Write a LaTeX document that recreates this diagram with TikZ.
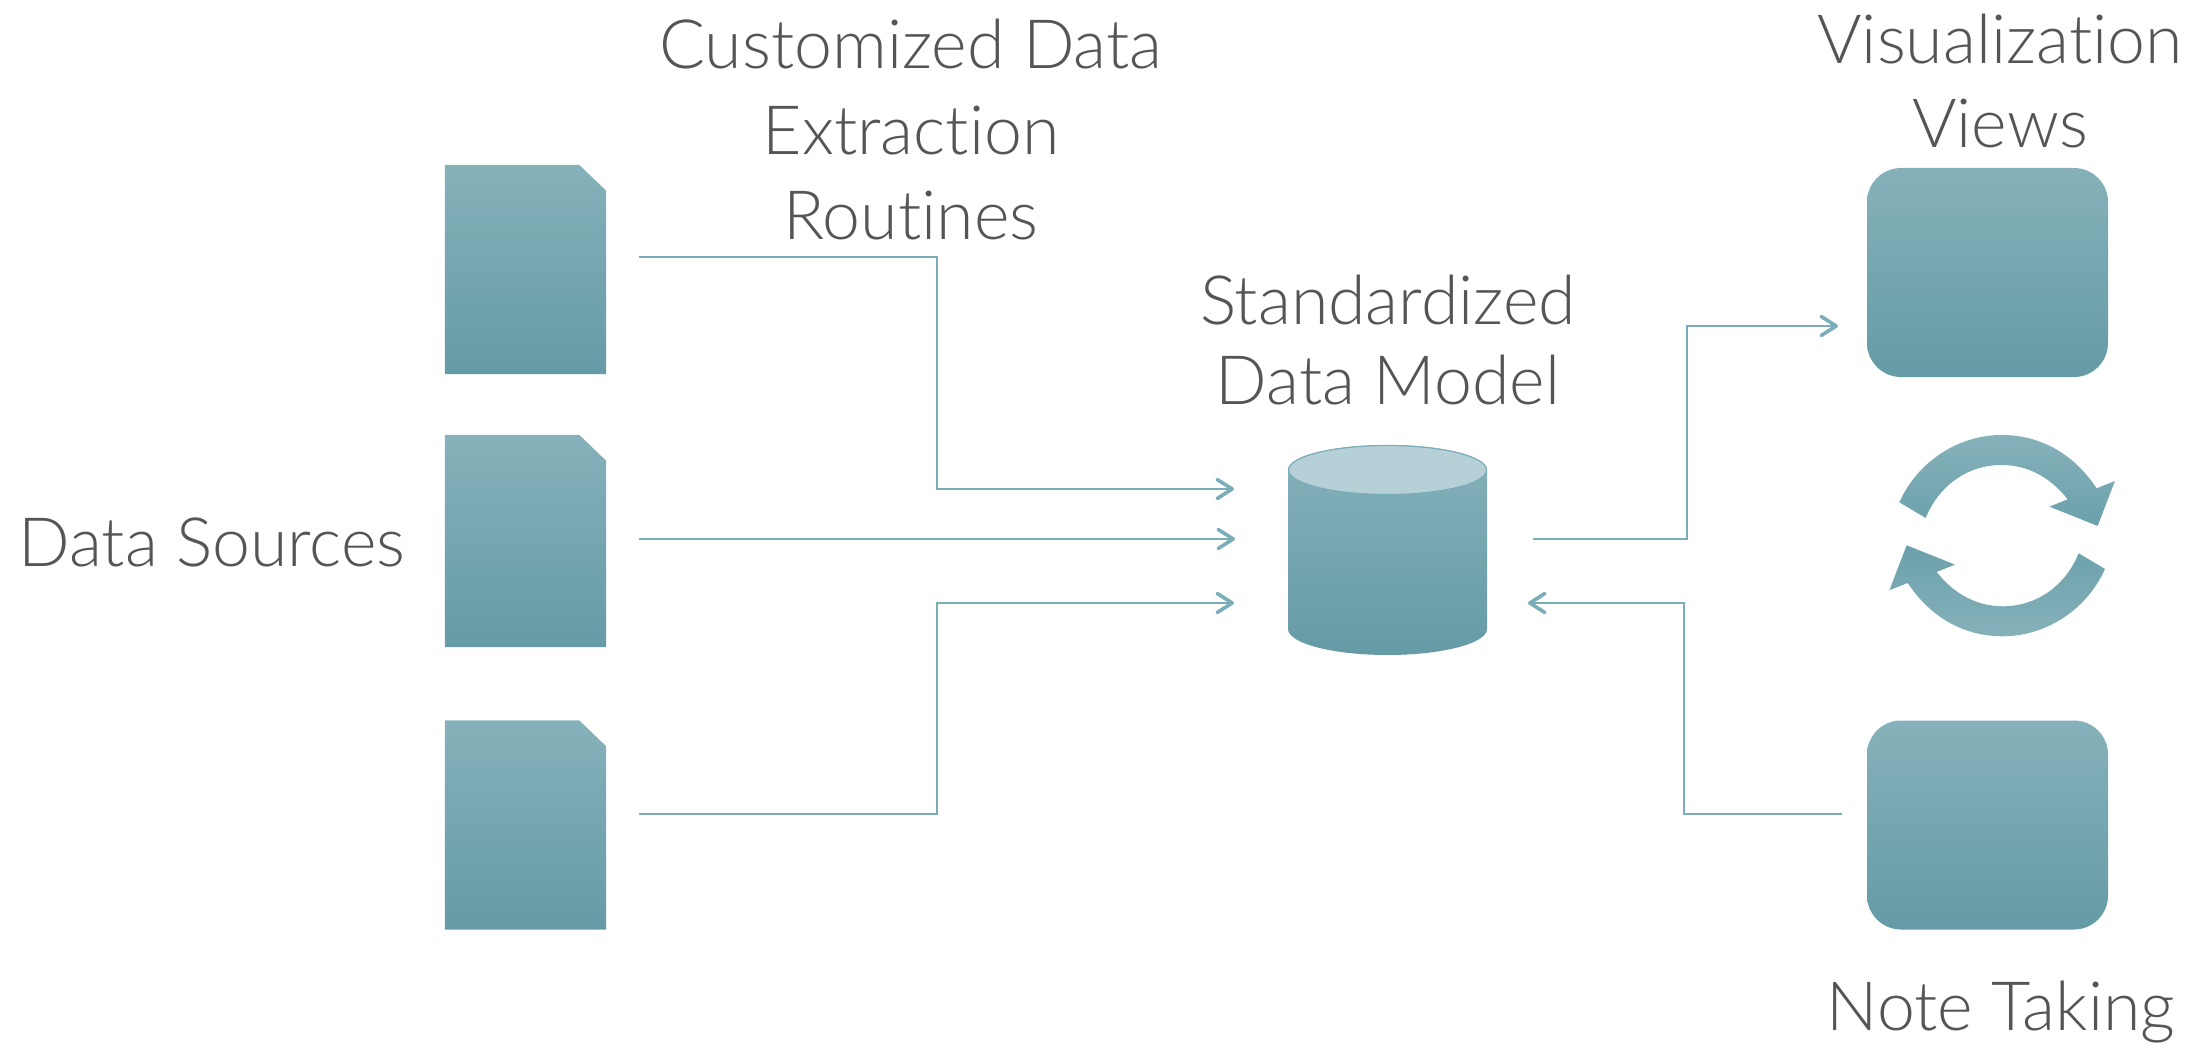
\documentclass[tikz,border=0pt]{standalone}
\usepackage{fontspec}
\setmainfont[UprightFont=* Light,Ligatures=NoCommon]{Lato}
\usetikzlibrary{arrows.meta}
\definecolor{gtop}{HTML}{86B1BA}
\definecolor{gmid}{HTML}{79AEB9}
\definecolor{gbot}{HTML}{659BA6}
\definecolor{capfill}{HTML}{B5D0D6}
\definecolor{linecol}{HTML}{7AADB8}
\definecolor{txt}{HTML}{555555}
\tikzset{
  x=1pt,y=-1pt,
  grad/.style={top color=gtop,middle color=gmid,bottom color=gbot,draw=none},
  gradrev/.style={top color=gbot!70!gmid,middle color=gmid,bottom color=gtop,draw=none},
  docslot/.style={minimum width=161pt,minimum height=209pt,inner sep=0pt},
  viewbox/.style={grad,rounded corners=34pt,minimum width=241pt,minimum height=209pt,inner sep=0pt},
  label/.style={text=txt,font=\fontsize{68}{68}\selectfont,inner sep=0pt,anchor=base},
  conn/.style={draw=linecol,line width=2.4pt,-{Straight Barb[length=15pt,width=19pt,line width=3.6pt,round]}},
}
\newcommand{\docpage}[1]{\shade[grad] (#1.north west) -- ([xshift=-27pt]#1.north east) -- ([yshift=-26pt]#1.north east) -- (#1.south east) -- (#1.south west) -- cycle;}
\begin{document}
\begin{tikzpicture}
\useasboundingbox (0,0) rectangle (2187,1051);
\node[docslot] (doc1) at (525.5,269.5) {};
\node[docslot,minimum height=212pt] (doc2) at (525.5,541) {};
\node[docslot] (doc3) at (525.5,825) {};
\docpage{doc1}\docpage{doc2}\docpage{doc3}
\node[viewbox] (vis) at (1987.5,272.5) {};
\node[viewbox] (note) at (1987.5,825) {};
\node[minimum width=199pt,minimum height=209pt,inner sep=0pt] (db) at (1387.5,550.5) {};
% cylinder
\shade[grad] (1288,470) -- (1288,629) arc[start angle=180,end angle=360,x radius=99.5pt,y radius=26pt] -- (1487,470) arc[start angle=0,end angle=180,x radius=99.5pt,y radius=25pt] -- cycle;
\draw[fill=capfill,draw=linecol,line width=1.2pt] (1387.5,470) ellipse[x radius=99pt,y radius=24.5pt];
% cycle arrows
\begin{scope}[shift={(1850,150)},x=0.3333pt,y=-0.3333pt]
\shade[top color=gtop,middle color=gmid,bottom color=gbot!70!gmid,draw=none] (148,1057) .. controls (205,930) and (330,855) .. (455,855) .. controls (570,855) and (670,910) .. (740,1015) -- (795,993) -- (743,1128) -- (598,1070) -- (653,1048) .. controls (600,980) and (530,945) .. (455,945) .. controls (350,945) and (265,1010) .. (227,1104) -- cycle;
\shade[gradrev] (765,1257) .. controls (708,1384) and (583,1459) .. (458,1459) .. controls (343,1459) and (243,1404) .. (173,1299) -- (118,1321) -- (170,1186) -- (315,1244) -- (260,1266) .. controls (313,1334) and (383,1369) .. (458,1369) .. controls (563,1369) and (648,1304) .. (686,1210) -- cycle;
\end{scope}
% connector ends
\coordinate (s1) at (639,257);
\coordinate (b1) at (937,257);
\coordinate (c1) at (937,489);
\coordinate (t1) at (1234,489);
\coordinate (s2) at (639,539);
\coordinate (t2) at (1235,539);
\coordinate (s3) at (639,814);
\coordinate (b3) at (937,814);
\coordinate (c3) at (937,603);
\coordinate (t3) at (1234,603);
\coordinate (s4) at (1533,539);
\coordinate (b4) at (1687,539);
\coordinate (c4) at (1687,326);
\coordinate (t4) at (1838,326);
\coordinate (s5) at (1842,814);
\coordinate (b5) at (1684,814);
\coordinate (c5) at (1684,603);
\coordinate (t5) at (1528,603);
\draw[conn] (s1) -- (b1) -- (c1) -- (t1);
\draw[conn] (s2) -- (t2);
\draw[conn] (s3) -- (b3) -- (c3) -- (t3);
\draw[conn] (s4) -- (b4) -- (c4) -- (t4);
\draw[conn] (s5) -- (b5) -- (c5) -- (t5);
% labels
\node[label] (l1) at (911,69) {Customized Data};
\node[label] (l2) at (911,155) {Extraction};
\node[label] (l3) at (911,240) {Routines};
\node[label] (l4) at (1388,324) {Standardized};
\node[label] (l5) at (1388,404) {Data Model};
\node[label] (l6) at (212,566) {Data Sources};
\node[label] (l7) at (2000,64) {Visualization};
\node[label] (l8) at (2000,148) {Views};
\node[label] (l9) at (2001,1030) {Note Taking};
\end{tikzpicture}
\end{document}
